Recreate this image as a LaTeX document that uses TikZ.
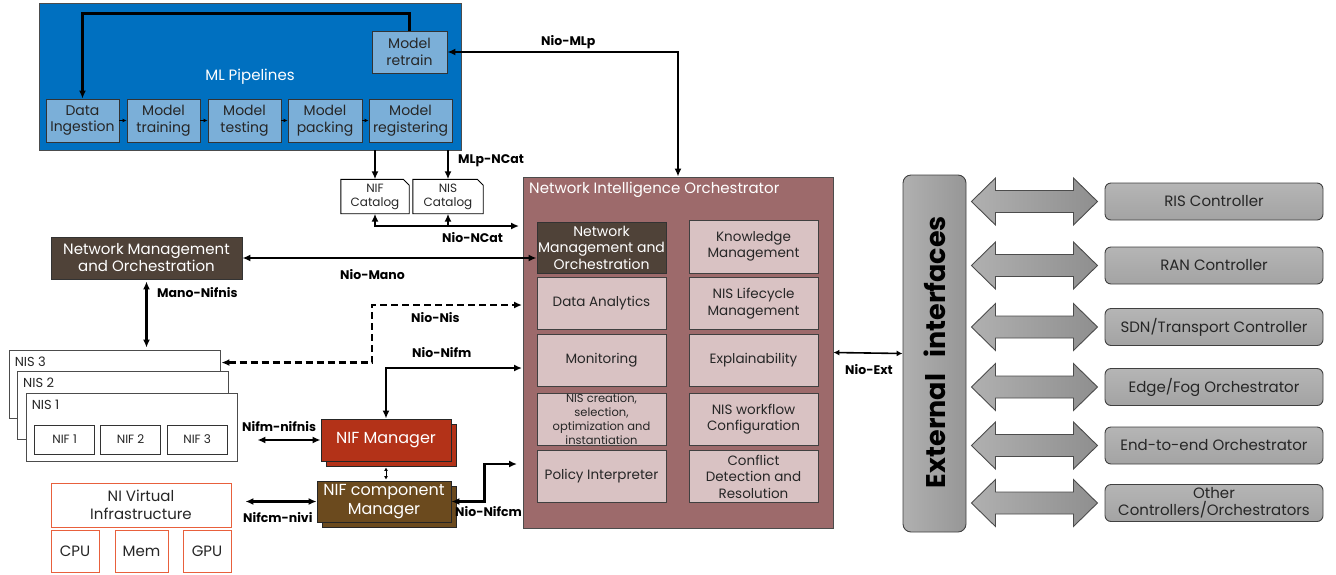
\documentclass[tikz,border=0pt]{standalone}
\usepackage{fontspec}
\setmainfont{Poppins}
\usetikzlibrary{arrows.meta,shadows,calc}
\definecolor{mlblue}{HTML}{0070C0}
\definecolor{mllight}{HTML}{7BAFD8}
\definecolor{nioc}{HTML}{9D6A6B}
\definecolor{nioin}{HTML}{D9C2C3}
\definecolor{nmoc}{HTML}{4F4238}
\definecolor{nifmc}{HTML}{B33218}
\definecolor{nifcmc}{HTML}{6B4A1E}
\definecolor{nivic}{HTML}{E8603C}
\definecolor{txt}{HTML}{262626}
\tikzset{
  mlouter/.style={draw=black!70, fill=mlblue, line width=0.9pt, minimum width=422pt, minimum height=147pt, text=white, font=\fontsize{15}{18}\selectfont},
  lb/.style={draw=black!80, fill=mllight, line width=0.9pt, text=txt, inner sep=0pt, align=center, minimum height=43pt, font=\fontsize{14}{16.5}\selectfont},
  cat/.style={inner sep=0pt, align=center, text=txt, minimum height=34pt, font=\fontsize{12}{14}\selectfont},
  niobox/.style={draw=black!70, fill=nioc, line width=0.9pt, minimum width=310pt, minimum height=351pt},
  inb/.style={draw=black!75, fill=nioin, line width=0.9pt, text=txt, inner sep=0pt, align=center, minimum width=129pt, minimum height=52pt, font=\fontsize{13.5}{16.5}\selectfont},
  darkb/.style={draw=black!80, fill=nmoc, line width=0.9pt, text=white, inner sep=0pt, align=center, font=\fontsize{14}{16.5}\selectfont},
  nisb/.style={draw=black!70, fill=white, line width=0.9pt, minimum width=211pt, minimum height=68pt},
  nifb/.style={draw=black!80, fill=white, line width=0.9pt, text=txt, minimum width=60pt, minimum height=29pt, inner sep=0pt, font=\fontsize{12}{14}\selectfont},
  mgr/.style={draw=black!85, line width=0.9pt, text=white, inner sep=0pt, align=center, font=\fontsize{16}{19}\selectfont, copy shadow={shadow xshift=5pt, shadow yshift=-5pt}},
  vib/.style={draw=nivic, fill=white, line width=0.9pt, text=txt, inner sep=0pt, align=center, font=\fontsize{15}{18}\selectfont},
  ctrl/.style={draw=black!75, rounded corners=6pt, top color=gray!58, bottom color=gray!72, line width=0.9pt, text=txt, inner sep=0pt, align=center, minimum width=218pt, minimum height=37pt, font=\fontsize{15}{17}\selectfont},
  lbl/.style={font=\bfseries\fontsize{12.5}{14}\selectfont, text=black, inner sep=0pt},
  conn/.style={line width=2.3pt, -{Latex[length=8pt,width=7pt]}},
  dconn/.style={line width=2.3pt, {Latex[length=8pt,width=7pt]}-{Latex[length=8pt,width=7pt]}},
  tinyarr/.style={line width=0.9pt, -{Latex[length=4pt,width=4pt]}},
  bigarr/.style={draw=black!70, line width=0.9pt, left color=gray!62, right color=gray!88},
}
\begin{document}
\begin{tikzpicture}[x=1pt,y=-1pt]
\useasboundingbox (0,0) rectangle (1336,574);

% ML pipelines
\node[mlouter] (ml) at (250,76.5) {ML Pipelines};
\node[lb, minimum width=75pt, minimum height=42pt] (retrain) at (409.5,52) {Model\\retrain};
\node[lb, minimum width=73pt] (di) at (82.5,120.5) {Data\\Ingestion};
\node[lb, minimum width=73pt] (mt) at (163.5,120.5) {Model\\training};
\node[lb, minimum width=73pt] (mte) at (244.5,120.5) {Model\\testing};
\node[lb, minimum width=74pt] (mp) at (325,120.5) {Model\\packing};
\node[lb, minimum width=83pt] (mr) at (410.5,120.5) {Model\\registering};
\draw[tinyarr] (di.east) -- (mt.west);
\draw[tinyarr] (mt.east) -- (mte.west);
\draw[tinyarr] (mte.east) -- (mp.west);
\draw[tinyarr] (mp.east) -- (mr.west);
\draw[conn] (retrain.north) -- ++(0,-17) -| (di.north);

% catalogs
\node[cat, minimum width=68pt] (nifcat) at (375,196.5) {NIF\\Catalog};
\node[cat, minimum width=70pt] (niscat) at (448,196.5) {NIS\\Catalog};
\draw[line width=0.9pt] (nifcat.south west) -- (nifcat.north west) -- ([xshift=-6pt]nifcat.north east) -- ([yshift=-6pt]nifcat.north east) -- (nifcat.south east) -- cycle;
\draw[line width=0.9pt] (niscat.south west) -- (niscat.north west) -- ([xshift=-6pt]niscat.north east) -- ([yshift=-6pt]niscat.north east) -- (niscat.south east) -- cycle;
\draw[conn] (nifcat.north |- ml.south) -- (nifcat.north);
\draw[conn] (niscat.north |- ml.south) -- (niscat.north);
\node[lbl, anchor=west] (lmlpncat) at (458,161) {MLp-NCat};

% orchestrator
\node[niobox] (nio) at (678,352.5) {};
\node[anchor=west, text=white, inner sep=0pt, font=\fontsize{15}{18}\selectfont] (niotitle) at (529,190) {Network Intelligence Orchestrator};
\node[darkb, minimum width=129pt, minimum height=51pt] (nmoi) at (601.5,247.5) {Network\\Management and\\Orchestration};
\node[inb] (da) at (601.5,303.5) {Data Analytics};
\node[inb] (mon) at (601.5,360.5) {Monitoring};
\node[inb, font=\fontsize{11.5}{13.8}\selectfont] (nisc) at (601.5,419) {NIS creation,\\selection,\\optimization and\\instantiation};
\node[inb] (pol) at (601.5,476.5) {Policy Interpreter};
\node[inb, minimum height=53pt] (km) at (753.5,246.5) {Knowledge\\Management};
\node[inb] (nislc) at (753.5,303.5) {NIS Lifecycle\\Management};
\node[inb] (xai) at (753.5,360.5) {Explainability};
\node[inb] (wf) at (753.5,419) {NIS workflow\\Configuration};
\node[inb] (cdr) at (753.5,476.5) {Conflict\\Detection and\\Resolution};

% Nio-MLp
\draw[dconn] (retrain.east) -| (nio.north);
\node[lbl, anchor=west] (lniomlp) at (541,42) {Nio-MLp};

% Nio-NCat
\coordinate (ncatend) at (519,226);
\draw[dconn] (nifcat.south) |- (ncatend);
\draw[conn] (niscat.south |- ncatend) -- (niscat.south);
\node[lbl, anchor=west] (lnioncat) at (442,238) {Nio-NCat};

% NMO external
\node[darkb, minimum width=191pt, minimum height=42pt, font=\fontsize{15}{17}\selectfont] (nmo) at (146.5,258) {Network Management\\and Orchestration};
\draw[dconn] (nmo.east) -- (nmoi.west |- nmo.east);
\node[lbl, anchor=west] (lniomano) at (340,275) {Nio-Mano};

% NIS stack
\node[nisb] (nis3) at (114.5,384) {};
\node[nisb] (nis2) at (123,405.5) {};
\node[nisb] (nis1) at (131.5,427.5) {};
\node[anchor=west, inner sep=0pt, text=txt, font=\fontsize{13}{15}\selectfont] (tnis3) at ([xshift=6pt,yshift=-12pt]nis3.north west) {NIS 3};
\node[anchor=west, inner sep=0pt, text=txt, font=\fontsize{13}{15}\selectfont] (tnis2) at ([xshift=6pt,yshift=-12pt]nis2.north west) {NIS 2};
\node[anchor=west, inner sep=0pt, text=txt, font=\fontsize{13}{15}\selectfont] (tnis1) at ([xshift=6pt,yshift=-12pt]nis1.north west) {NIS 1};
\node[nifb] (nif1) at (64.6,439.5) {NIF 1};
\node[nifb] (nif2) at (130.6,439.5) {NIF 2};
\node[nifb] (nif3) at (197.2,439.5) {NIF 3};

\draw[dconn, shorten <=2pt, shorten >=2pt] (nmo.south) -- (nis3.north -| nmo.south);
\node[lbl, anchor=west] (lmanonifnis) at (157,293) {Mano-Nifnis};

% Nio-Nis dashed
\coordinate (nisend) at (522,305);
\coordinate (nisbend) at (372,305);
\draw[dconn, dash pattern=on 7pt off 4pt] ([yshift=-13pt,xshift=1pt]nis3.north east) -| (nisbend) -- (nisend);
\node[lbl, anchor=west] (lnionis) at (411,318) {Nio-Nis};

% NIF manager & component manager
\node[mgr, fill=nifmc, minimum width=130pt, minimum height=42pt] (nifm) at (386,440) {NIF Manager};
\node[mgr, fill=nifcmc, minimum width=134pt, minimum height=41pt] (nifcm) at (384,501.5) {NIF component\\Manager};

\coordinate (nifmend) at (522,368);
\draw[dconn] (nifm.north) |- (nifmend);
\node[lbl, anchor=west] (lnionifm) at (412,353) {Nio-Nifm};

\draw[dconn, shorten <=20pt] (nis1.east |- nifm.west) -- (nifm.west);
\node[lbl, anchor=west] (lnifmnifnis) at (242,427) {Nifm-nifnis};

\draw[line width=1pt, {Latex[length=3.5pt,width=4pt]}-{Latex[length=3.5pt,width=4pt]}, shorten <=6pt, shorten >=1pt] (nifm.south) -- (nifcm.north -| nifm.south);

% NI virtual infrastructure
\node[vib, minimum width=180pt, minimum height=44pt] (nivi) at (141,505) {NI Virtual\\Infrastructure};
\node[vib, minimum width=48pt, minimum height=42pt] (cpu) at (75,551) {CPU};
\node[vib, minimum width=53pt, minimum height=42pt] (mem) at (141.5,551) {Mem};
\node[vib, minimum width=48pt, minimum height=42pt] (gpu) at (207,551) {GPU};

\draw[dconn, shorten <=14pt] (nivi.east |- nifcm.west) -- (nifcm.west);
\node[lbl, anchor=west] (lnifcmnivi) at (243,518) {Nifcm-nivi};

\coordinate (nifcmend) at (517,464);
\draw[dconn] (nifcm.east) -- ++(33,0) |- (nifcmend);
\node[lbl, anchor=west] (lnionifcm) at (455,512) {Nio-Nifcm};

% External interfaces
\node[draw=black!75, rounded corners=8pt, left color=gray!62, right color=gray!82, line width=0.9pt, minimum width=63pt, minimum height=357pt] (ext) at (934.5,353.5) {};
\node[rotate=90, inner sep=0pt, font=\bfseries\fontsize{27}{30}\selectfont] (exttext) at (935,352) {External\hspace{0.4em} interfaces};

\draw[line width=1.6pt, {Latex[length=6pt,width=6pt]}-{Latex[length=6pt,width=6pt]}] (nio.east) -- (ext.west);
\node[lbl, anchor=west] (lnioext) at (845,370) {Nio-Ext};

% controllers
\node[ctrl] (ris) at (1214,201.5) {RIS Controller};
\node[ctrl] (ran) at (1214,265.5) {RAN Controller};
\node[ctrl] (sdn) at (1214,327) {SDN/Transport Controller};
\node[ctrl] (edge) at (1214,387) {Edge/Fog Orchestrator};
\node[ctrl] (e2e) at (1214,445.5) {End-to-end Orchestrator};
\node[ctrl] (other) at (1214,503) {Other\\Controllers/Orchestrators};

\foreach \n in {ris,ran,sdn,edge,e2e,other}{
  \path[bigarr] ($(ext.east |- \n.west)+(5,0)$) -- ++(24,-23.5) -- ++(0,12.5) -- ++(78,0) -- ++(0,-12.5) -- ++(24,23.5) -- ++(-24,23.5) -- ++(0,-12.5) -- ++(-78,0) -- ++(0,12.5) -- cycle;
}
\end{tikzpicture}
\end{document}
